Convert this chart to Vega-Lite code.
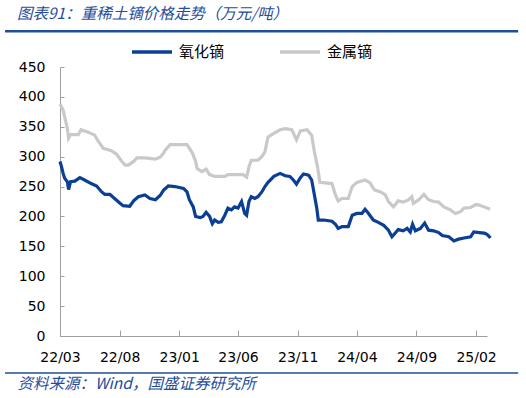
{
"$schema": "https://vega.github.io/schema/vega-lite/v6.json",
"width": 427, "height": 269,
"autosize": {"type": "none"},
"padding": {"left": 60, "top": 67, "right": 39, "bottom": 62},
"background": "white",
"config": {"view": {"stroke": null}, "font": "DejaVu Sans"},
"title": {"text": "图表91：重稀土镝价格走势（万元/吨）", "anchor": "start", "frame": "group", "dx": -43, "dy": -3, "font": "Noto Sans CJK SC", "fontSize": 15.5, "fontStyle": "italic", "fontWeight": "normal", "color": "#1F4E9A"},
"resolve": {"scale": {"x": "independent", "y": "independent"}, "axis": {"x": "independent", "y": "independent"}},
"layer": [
{
"data": {"values": [
{"date":"2022-03-01","series":"金属镝","price":388},{"date":"2022-03-09","series":"金属镝","price":378},{"date":"2022-03-15","series":"金属镝","price":361},{"date":"2022-03-20","series":"金属镝","price":347},{"date":"2022-03-23","series":"金属镝","price":331},{"date":"2022-03-28","series":"金属镝","price":337},{"date":"2022-04-17","series":"金属镝","price":337},{"date":"2022-04-24","series":"金属镝","price":345},{"date":"2022-05-12","series":"金属镝","price":341},{"date":"2022-05-29","series":"金属镝","price":336},{"date":"2022-06-08","series":"金属镝","price":325},{"date":"2022-06-20","series":"金属镝","price":314},{"date":"2022-07-11","series":"金属镝","price":310},{"date":"2022-07-24","series":"金属镝","price":304},{"date":"2022-08-07","series":"金属镝","price":292},{"date":"2022-08-15","series":"金属镝","price":286},{"date":"2022-08-23","series":"金属镝","price":286},{"date":"2022-09-06","series":"金属镝","price":292},{"date":"2022-09-14","series":"金属镝","price":298},{"date":"2022-10-05","series":"金属镝","price":298},{"date":"2022-11-01","series":"金属镝","price":296},{"date":"2022-11-13","series":"金属镝","price":299},{"date":"2022-11-22","series":"金属镝","price":306},{"date":"2022-11-26","series":"金属镝","price":311},{"date":"2022-12-09","series":"金属镝","price":320},{"date":"2023-01-21","series":"金属镝","price":320},{"date":"2023-02-04","series":"金属镝","price":306},{"date":"2023-02-12","series":"金属镝","price":292},{"date":"2023-02-16","series":"金属镝","price":280},{"date":"2023-02-28","series":"金属镝","price":275},{"date":"2023-03-11","series":"金属镝","price":279},{"date":"2023-03-20","series":"金属镝","price":270},{"date":"2023-04-02","series":"金属镝","price":267},{"date":"2023-04-28","series":"金属镝","price":267},{"date":"2023-05-06","series":"金属镝","price":270},{"date":"2023-06-14","series":"金属镝","price":270},{"date":"2023-06-23","series":"金属镝","price":266},{"date":"2023-06-29","series":"金属镝","price":283},{"date":"2023-07-05","series":"金属镝","price":294},{"date":"2023-07-22","series":"金属镝","price":294},{"date":"2023-08-01","series":"金属镝","price":300},{"date":"2023-08-09","series":"金属镝","price":308},{"date":"2023-08-17","series":"金属镝","price":333},{"date":"2023-09-01","series":"金属镝","price":339},{"date":"2023-09-17","series":"金属镝","price":345},{"date":"2023-09-30","series":"金属镝","price":347},{"date":"2023-10-17","series":"金属镝","price":345},{"date":"2023-10-29","series":"金属镝","price":328},{"date":"2023-11-08","series":"金属镝","price":343},{"date":"2023-11-25","series":"金属镝","price":345},{"date":"2023-12-07","series":"金属镝","price":336},{"date":"2023-12-14","series":"金属镝","price":308},{"date":"2023-12-22","series":"金属镝","price":283},{"date":"2023-12-28","series":"金属镝","price":257},{"date":"2024-01-28","series":"金属镝","price":255},{"date":"2024-02-06","series":"金属镝","price":236},{"date":"2024-02-13","series":"金属镝","price":226},{"date":"2024-02-23","series":"金属镝","price":230},{"date":"2024-03-10","series":"金属镝","price":230},{"date":"2024-03-20","series":"金属镝","price":250},{"date":"2024-04-01","series":"金属镝","price":257},{"date":"2024-04-22","series":"金属镝","price":261},{"date":"2024-05-05","series":"金属镝","price":256},{"date":"2024-05-13","series":"金属镝","price":247},{"date":"2024-05-17","series":"金属镝","price":244},{"date":"2024-06-01","series":"金属镝","price":241},{"date":"2024-06-13","series":"金属镝","price":236},{"date":"2024-06-21","series":"金属镝","price":225},{"date":"2024-07-04","series":"金属镝","price":216},{"date":"2024-07-16","series":"金属镝","price":226},{"date":"2024-07-29","series":"金属镝","price":224},{"date":"2024-08-12","series":"金属镝","price":228},{"date":"2024-08-20","series":"金属镝","price":233},{"date":"2024-08-24","series":"金属镝","price":222},{"date":"2024-09-07","series":"金属镝","price":228},{"date":"2024-09-20","series":"金属镝","price":237},{"date":"2024-10-02","series":"金属镝","price":228},{"date":"2024-10-15","series":"金属镝","price":225},{"date":"2024-10-28","series":"金属镝","price":224},{"date":"2024-11-10","series":"金属镝","price":216},{"date":"2024-11-27","series":"金属镝","price":211},{"date":"2024-12-10","series":"金属镝","price":205},{"date":"2024-12-23","series":"金属镝","price":208},{"date":"2025-01-01","series":"金属镝","price":214},{"date":"2025-01-18","series":"金属镝","price":215},{"date":"2025-02-01","series":"金属镝","price":220},{"date":"2025-02-09","series":"金属镝","price":219},{"date":"2025-02-22","series":"金属镝","price":216},{"date":"2025-03-09","series":"金属镝","price":212},
{"date":"2022-03-01","series":"氧化镝","price":292},{"date":"2022-03-05","series":"氧化镝","price":283},{"date":"2022-03-09","series":"氧化镝","price":272},{"date":"2022-03-13","series":"氧化镝","price":264},{"date":"2022-03-20","series":"氧化镝","price":258},{"date":"2022-03-23","series":"氧化镝","price":245},{"date":"2022-03-28","series":"氧化镝","price":258},{"date":"2022-04-08","series":"氧化镝","price":259},{"date":"2022-04-21","series":"氧化镝","price":265},{"date":"2022-05-03","series":"氧化镝","price":261},{"date":"2022-05-20","series":"氧化镝","price":255},{"date":"2022-06-03","series":"氧化镝","price":251},{"date":"2022-06-16","series":"氧化镝","price":241},{"date":"2022-06-24","series":"氧化镝","price":237},{"date":"2022-07-07","series":"氧化镝","price":237},{"date":"2022-07-19","series":"氧化镝","price":230},{"date":"2022-08-02","series":"氧化镝","price":222},{"date":"2022-08-10","series":"氧化镝","price":218},{"date":"2022-08-27","series":"氧化镝","price":217},{"date":"2022-09-06","series":"氧化镝","price":226},{"date":"2022-09-18","series":"氧化镝","price":233},{"date":"2022-10-05","series":"氧化镝","price":236},{"date":"2022-10-18","series":"氧化镝","price":230},{"date":"2022-11-01","series":"氧化镝","price":228},{"date":"2022-11-13","series":"氧化镝","price":235},{"date":"2022-11-22","series":"氧化镝","price":244},{"date":"2022-12-04","series":"氧化镝","price":251},{"date":"2022-12-21","series":"氧化镝","price":250},{"date":"2023-01-12","series":"氧化镝","price":247},{"date":"2023-01-21","series":"氧化镝","price":241},{"date":"2023-01-27","series":"氧化镝","price":228},{"date":"2023-02-06","series":"氧化镝","price":216},{"date":"2023-02-12","series":"氧化镝","price":200},{"date":"2023-02-24","series":"氧化镝","price":198},{"date":"2023-03-03","series":"氧化镝","price":200},{"date":"2023-03-11","series":"氧化镝","price":207},{"date":"2023-03-20","series":"氧化镝","price":200},{"date":"2023-03-27","series":"氧化镝","price":188},{"date":"2023-04-02","series":"氧化镝","price":194},{"date":"2023-04-11","series":"氧化镝","price":190},{"date":"2023-04-19","series":"氧化镝","price":191},{"date":"2023-04-28","series":"氧化镝","price":202},{"date":"2023-05-06","series":"氧化镝","price":214},{"date":"2023-05-15","series":"氧化镝","price":211},{"date":"2023-05-23","series":"氧化镝","price":216},{"date":"2023-06-01","series":"氧化镝","price":214},{"date":"2023-06-10","series":"氧化镝","price":225},{"date":"2023-06-18","series":"氧化镝","price":205},{"date":"2023-06-23","series":"氧化镝","price":202},{"date":"2023-06-29","series":"氧化镝","price":225},{"date":"2023-07-05","series":"氧化镝","price":233},{"date":"2023-07-14","series":"氧化镝","price":230},{"date":"2023-07-22","series":"氧化镝","price":233},{"date":"2023-08-01","series":"氧化镝","price":241},{"date":"2023-08-09","series":"氧化镝","price":250},{"date":"2023-08-17","series":"氧化镝","price":257},{"date":"2023-09-01","series":"氧化镝","price":267},{"date":"2023-09-17","series":"氧化镝","price":272},{"date":"2023-09-30","series":"氧化镝","price":268},{"date":"2023-10-12","series":"氧化镝","price":267},{"date":"2023-10-21","series":"氧化镝","price":261},{"date":"2023-10-29","series":"氧化镝","price":254},{"date":"2023-11-08","series":"氧化镝","price":265},{"date":"2023-11-16","series":"氧化镝","price":271},{"date":"2023-11-29","series":"氧化镝","price":269},{"date":"2023-12-07","series":"氧化镝","price":261},{"date":"2023-12-14","series":"氧化镝","price":236},{"date":"2023-12-20","series":"氧化镝","price":214},{"date":"2023-12-24","series":"氧化镝","price":194},{"date":"2024-01-07","series":"氧化镝","price":194},{"date":"2024-01-28","series":"氧化镝","price":192},{"date":"2024-02-06","series":"氧化镝","price":187},{"date":"2024-02-13","series":"氧化镝","price":180},{"date":"2024-02-23","series":"氧化镝","price":183},{"date":"2024-03-10","series":"氧化镝","price":183},{"date":"2024-03-20","series":"氧化镝","price":202},{"date":"2024-04-01","series":"氧化镝","price":205},{"date":"2024-04-14","series":"氧化镝","price":205},{"date":"2024-04-22","series":"氧化镝","price":212},{"date":"2024-05-01","series":"氧化镝","price":205},{"date":"2024-05-13","series":"氧化镝","price":194},{"date":"2024-05-26","series":"氧化镝","price":190},{"date":"2024-06-09","series":"氧化镝","price":185},{"date":"2024-06-21","series":"氧化镝","price":177},{"date":"2024-06-30","series":"氧化镝","price":166},{"date":"2024-07-08","series":"氧化镝","price":172},{"date":"2024-07-16","series":"氧化镝","price":178},{"date":"2024-07-29","series":"氧化镝","price":176},{"date":"2024-08-08","series":"氧化镝","price":180},{"date":"2024-08-16","series":"氧化镝","price":174},{"date":"2024-08-22","series":"氧化镝","price":187},{"date":"2024-08-29","series":"氧化镝","price":176},{"date":"2024-09-11","series":"氧化镝","price":180},{"date":"2024-09-22","series":"氧化镝","price":189},{"date":"2024-10-02","series":"氧化镝","price":177},{"date":"2024-10-15","series":"氧化镝","price":176},{"date":"2024-10-28","series":"氧化镝","price":173},{"date":"2024-11-06","series":"氧化镝","price":168},{"date":"2024-11-23","series":"氧化镝","price":166},{"date":"2024-12-06","series":"氧化镝","price":159},{"date":"2024-12-18","series":"氧化镝","price":162},{"date":"2025-01-01","series":"氧化镝","price":164},{"date":"2025-01-18","series":"氧化镝","price":166},{"date":"2025-01-26","series":"氧化镝","price":174},{"date":"2025-02-09","series":"氧化镝","price":173},{"date":"2025-02-22","series":"氧化镝","price":172},{"date":"2025-03-01","series":"氧化镝","price":170},{"date":"2025-03-10","series":"氧化镝","price":164}
]},
"mark": {"type": "line", "strokeWidth": 3.2, "clip": false},
"encoding": {
"x": {"field": "date", "type": "temporal",
 "scale": {"type": "utc", "domain": [{"year": 2022, "month": 3, "date": 1, "utc": true}, {"year": 2025, "month": 3, "date": 1, "utc": true}]},
 "axis": {"values": [{"year": 2022, "month": 3, "date": 1, "utc": true}, {"year": 2022, "month": 8, "date": 1, "utc": true}, {"year": 2023, "month": 1, "date": 1, "utc": true}, {"year": 2023, "month": 6, "date": 1, "utc": true}, {"year": 2023, "month": 11, "date": 1, "utc": true}, {"year": 2024, "month": 4, "date": 1, "utc": true}, {"year": 2024, "month": 9, "date": 1, "utc": true}, {"year": 2025, "month": 2, "date": 1, "utc": true}],
  "format": "%y/%m", "grid": false, "labelFont": "DejaVu Sans", "labelFontSize": 14, "labelColor": "#000000", "labelPadding": 20, "labelFlush": false, "labelOverlap": false,
  "domainColor": "#A0A0A0", "domainWidth": 1, "tickColor": "#A0A0A0", "tickWidth": 1, "tickSize": -6,
  "title": "资料来源：Wind，国盛证券研究所", "titleFont": "Noto Sans CJK SC", "titleFontSize": 15.5, "titleFontStyle": "italic", "titleFontWeight": "normal", "titleColor": "#1F4E9A", "titleAnchor": "start", "titleAlign": "left", "titleBaseline": "middle", "titleX": -43, "titleY": 47}},
"y": {"field": "price", "type": "quantitative",
 "scale": {"domain": [0, 450], "nice": false},
 "axis": {"values": [0, 50, 100, 150, 200, 250, 300, 350, 400, 450], "title": null, "grid": false, "labelFont": "DejaVu Sans", "labelFontSize": 14, "labelColor": "#000000", "labelPadding": 19, "labelOverlap": false, "labelFlush": false, "domainColor": "#A0A0A0", "domainWidth": 1, "tickColor": "#A0A0A0", "tickWidth": 1, "tickSize": -4}},
"color": {"field": "series", "type": "nominal",
 "scale": {"domain": ["氧化镝", "金属镝"], "range": ["#0B3F94", "#C9C9C9"]},
 "legend": {"title": null, "orient": "none", "legendX": 70, "legendY": -37, "direction": "horizontal", "symbolType": "stroke", "symbolSize": 1600, "symbolStrokeWidth": 3.5, "labelFont": "Noto Sans CJK SC", "labelFontSize": 15, "labelColor": "#000000", "labelOffset": 5, "columnPadding": 48}}
}
},
{
"data": {"values": [{}]},
"mark": {"type": "rule", "color": "#1F4E9A", "strokeWidth": 2.5, "clip": false},
"encoding": {
"x": {"datum": {"year": 2021, "month": 10, "date": 11, "utc": true}, "type": "temporal", "axis": null, "scale": {"type": "utc", "domain": [{"year": 2022, "month": 3, "date": 1, "utc": true}, {"year": 2025, "month": 3, "date": 1, "utc": true}]}},
"x2": {"datum": {"year": 2025, "month": 5, "date": 20, "utc": true}},
"y": {"datum": 510, "type": "quantitative", "axis": null, "scale": {"domain": [0, 450], "nice": false}}
}
},
{
"data": {"values": [{}]},
"mark": {"type": "rule", "color": "#1F4E9A", "strokeWidth": 1.5, "clip": false},
"encoding": {
"x": {"datum": {"year": 2021, "month": 10, "date": 11, "utc": true}, "type": "temporal", "axis": null, "scale": {"type": "utc", "domain": [{"year": 2022, "month": 3, "date": 1, "utc": true}, {"year": 2025, "month": 3, "date": 1, "utc": true}]}},
"x2": {"datum": {"year": 2025, "month": 5, "date": 20, "utc": true}},
"y": {"datum": -62, "type": "quantitative", "axis": null, "scale": {"domain": [0, 450], "nice": false}}
}
}
]
}
